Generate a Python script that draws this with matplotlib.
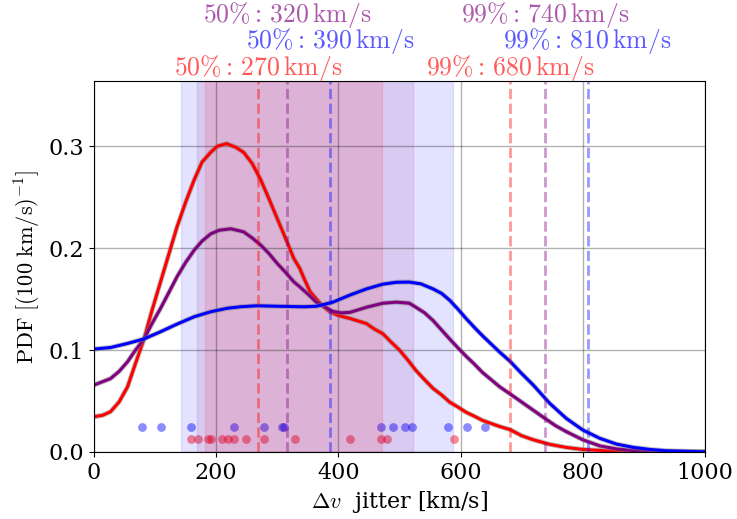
import matplotlib
matplotlib.use("Agg")
import matplotlib.pyplot as plt
import matplotlib.patheffects as pe

plt.rcParams['font.family'] = 'DejaVu Serif'
plt.rcParams['mathtext.fontset'] = 'cm'

# PDF curves (v in km/s, pdf per 100 km/s)
red_v = [0, 14, 27, 41, 55, 68, 82, 95, 109, 123, 136, 150, 164, 177, 191, 202, 217, 232,
         245, 259, 273, 286, 300, 314, 327, 337, 344, 354, 373, 386, 400, 419, 446, 459, 473,
         486, 500, 514, 527, 541, 555, 569, 582, 596, 609, 623, 636, 650, 664, 681, 700, 719,
         746, 773, 800, 850, 900, 1000]
red_pdf = [0.0346, 0.036, 0.0395, 0.049, 0.064, 0.087, 0.111, 0.139, 0.167, 0.195, 0.221,
           0.245, 0.267, 0.2846, 0.294, 0.300, 0.3026, 0.299, 0.294, 0.283, 0.267, 0.249,
           0.229, 0.209, 0.19, 0.18, 0.170, 0.157, 0.144, 0.1376, 0.134, 0.131, 0.126, 0.1206,
           0.116, 0.108, 0.100, 0.090, 0.080, 0.071, 0.0624, 0.056, 0.049, 0.044, 0.039, 0.035,
           0.031, 0.028, 0.025, 0.022, 0.016, 0.012, 0.0075, 0.0045, 0.0025, 0.0008, 0.0002, 0.0]

purple_v = [0, 27, 41, 55, 68, 82, 95, 109, 123, 136, 150, 164, 177, 191, 205, 224, 245, 259,
            273, 286, 300, 314, 327, 337, 350, 364, 373, 391, 405, 419, 446, 473, 495, 516,
            527, 541, 555, 582, 596, 609, 623, 636, 650, 664, 681, 700, 719, 738, 755, 773,
            800, 828, 855, 882, 950, 1000]
purple_pdf = [0.0657, 0.072, 0.079, 0.0886, 0.100, 0.111, 0.126, 0.141, 0.157, 0.172, 0.186,
              0.198, 0.207, 0.214, 0.2176, 0.219, 0.216, 0.210, 0.203, 0.195, 0.185, 0.176,
              0.167, 0.162, 0.155, 0.147, 0.144, 0.138, 0.1365, 0.137, 0.142, 0.146, 0.147,
              0.146, 0.142, 0.1366, 0.129, 0.111, 0.102, 0.094, 0.086, 0.078, 0.071, 0.064,
              0.057, 0.049, 0.041, 0.033, 0.026, 0.020, 0.012, 0.006, 0.003, 0.0015, 0.0003, 0.0]

blue_v = [0, 27, 55, 82, 109, 136, 164, 191, 218, 240, 267, 300, 344, 364, 391, 419, 446, 473,
          495, 516, 535, 555, 569, 582, 596, 609, 623, 636, 650, 664, 681, 700, 719, 746, 773,
          800, 828, 855, 882, 910, 937, 991, 1000]
blue_pdf = [0.101, 0.1025, 0.1065, 0.111, 0.118, 0.1255, 0.1327, 0.1376, 0.141, 0.1425,
            0.1435, 0.143, 0.1425, 0.143, 0.147, 0.154, 0.160, 0.1647, 0.1665, 0.1667, 0.165,
            0.160, 0.1556, 0.149, 0.140, 0.131, 0.122, 0.114, 0.106, 0.098, 0.089, 0.077,
            0.0657, 0.0477, 0.033, 0.0216, 0.0134, 0.0078, 0.0046, 0.0025, 0.0012, 0.0003, 0.0002]

# individual measurements (km/s)
blue_pts = [79, 109, 159, 229, 279, 307, 311, 469, 490, 509, 520, 580, 610, 640]
red_pts = [159, 170, 187, 191, 209, 219, 230, 249, 279, 329, 419, 469, 480, 590]

# intervals and percentiles: red, purple, blue
colors = ['red', 'purple', 'blue']
span_lo = [182, 168, 143]
span_hi = [472, 522, 588]
p50 = [268, 316, 387]
p99 = [681, 739, 808]
label_y = [0.377, 0.429, 0.403]

fig = plt.figure(figsize=(7.37, 5.19), dpi=100)
ax = fig.add_axes([0.1275, 0.1291, 0.829, 0.7148])

ax.scatter(blue_pts, [0.025] * len(blue_pts), s=40, color='blue', alpha=0.45, lw=0)
ax.scatter(red_pts, [0.0125] * len(red_pts), s=40, color='red', alpha=0.45, lw=0)

for c, lo, hi in zip(['blue', 'purple', 'red'], span_lo[::-1], span_hi[::-1]):
    ax.axvspan(lo, hi, color=c, alpha=0.11)

stroke = [pe.Stroke(linewidth=3.6, foreground='gray', alpha=0.5), pe.Normal()]
ax.plot(red_v, red_pdf, color='red', lw=2.2, path_effects=stroke)
ax.plot(purple_v, purple_pdf, color='purple', lw=2.2, path_effects=stroke)
ax.plot(blue_v, blue_pdf, color='blue', lw=2.2, path_effects=stroke)

for c, m, q, y in zip(colors, p50, p99, label_y):
    ax.axvline(m, color=c, ls='--', lw=2, alpha=0.4)
    ax.axvline(q, color=c, ls='--', lw=2, alpha=0.4)
    ax.text(m, y, r'$50\%:\,' + str(int(round(m, -1))) + r'\,\mathrm{km/s}$',
            color=c, alpha=0.65, ha='center', va='center', fontsize=18.5, clip_on=False)
    ax.text(q, y, r'$99\%:\,' + str(int(round(q, -1))) + r'\,\mathrm{km/s}$',
            color=c, alpha=0.65, ha='center', va='center', fontsize=18.5, clip_on=False)

ax.grid(True, color='k', alpha=0.3, lw=1)
ax.set_xlim(0, 1000)
ax.set_ylim(0, 0.364)
ax.set_xticks([0, 200, 400, 600, 800, 1000])
ax.set_yticks([0.0, 0.1, 0.2, 0.3])
ax.tick_params(labelsize=16)
ax.set_xlabel(r'$\Delta v$  jitter [km/s]', fontsize=16)
ax.set_ylabel(r'$\mathrm{PDF}\ [(100\ \mathrm{km/s})^{-1}]$', fontsize=16)

fig.savefig('out.png', dpi=100)
